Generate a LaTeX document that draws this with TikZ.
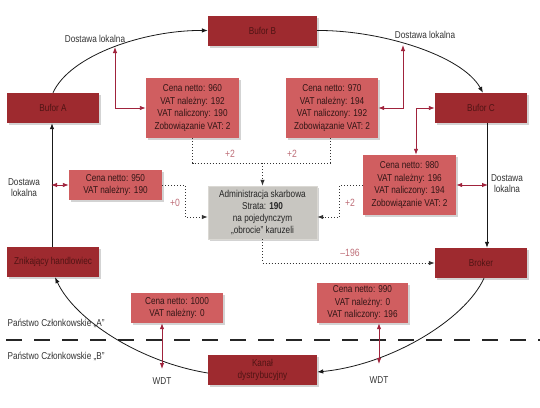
\documentclass[tikz,border=0pt]{standalone}
\usepackage{fontspec}
\setmainfont{Liberation Sans}[FakeStretch=0.82]
\usetikzlibrary{arrows.meta,shadows}
\definecolor{darkbox}{RGB}{158,42,47}
\definecolor{darktext}{RGB}{80,20,20}
\definecolor{infobox}{RGB}{208,94,96}
\definecolor{infotext}{RGB}{50,22,22}
\definecolor{greybox}{RGB}{200,198,193}
\definecolor{greyedge}{RGB}{218,216,211}
\definecolor{redline}{RGB}{160,35,60}
\definecolor{pluscol}{RGB}{190,110,120}
\tikzset{
  shade/.style={drop shadow={opacity=0.35,shadow xshift=2pt,shadow yshift=-2pt}},
  darkstyle/.style={shade,fill=darkbox,text=darktext,minimum height=30pt,inner sep=0pt,align=center,font=\fontsize{10}{11.5}\selectfont},
  infostyle/.style={shade,fill=infobox,text=infotext,inner sep=0pt,align=center,font=\fontsize{10}{12.5}\selectfont},
  admstyle/.style={shade,fill=greybox,draw=greyedge,text=black!85,inner sep=0pt,align=center,font=\fontsize{10}{12}\selectfont},
  lbl/.style={text=black!80,align=center,font=\fontsize{10}{11}\selectfont},
  pluslbl/.style={text=pluscol,font=\fontsize{10.5}{11}\selectfont},
  flow/.style={draw=black!90,line width=0.8pt,-{Latex[length=6pt,width=4.5pt]}},
  redboth/.style={draw=redline,line width=0.9pt,{Latex[length=6pt,width=4.5pt]}-{Latex[length=6pt,width=4.5pt]}},
  dotline/.style={draw=black!80,line width=1pt,dotted},
  dotarrow/.style={dotline,-{Latex[length=6pt,width=4.5pt]}}
}
\begin{document}
\begin{tikzpicture}[x=1pt,y=-1pt]
\useasboundingbox (0,0) rectangle (540,407);
% dark boxes
\node[darkstyle,minimum width=109pt] (bufB) at (262.5,30.5) {Bufor B};
\node[darkstyle,minimum width=92pt] (bufA) at (53,108) {Bufor A};
\node[darkstyle,minimum width=92pt] (bufC) at (481,108) {Bufor C};
\node[darkstyle,minimum width=92pt] (znik) at (53,262) {Znikający handlowiec};
\node[darkstyle,minimum width=92pt] (broker) at (481,263) {Broker};
\node[darkstyle,minimum width=109pt] (kanal) at (262.5,370) {Kanał\\dystrybucyjny};
% info boxes
\node[infostyle,minimum width=93pt,minimum height=60pt] (box1) at (192.5,108) {Cena netto: 960\\VAT należny: 192\\VAT naliczony: 190\\Zobowiązanie VAT: 2};
\node[infostyle,minimum width=92pt,minimum height=60pt] (box2) at (332,108) {Cena netto: 970\\VAT należny: 194\\VAT naliczony: 192\\Zobowiązanie VAT: 2};
\node[infostyle,minimum width=93pt,minimum height=60pt] (box3) at (409.5,185) {Cena netto: 980\\VAT należny: 196\\VAT naliczony: 194\\Zobowiązanie VAT: 2};
\node[infostyle,minimum width=93pt,minimum height=30pt] (box4) at (115.5,185) {Cena netto: 950\\VAT należny: 190};
\node[infostyle,minimum width=92pt,minimum height=30pt] (box5) at (177,308) {Cena netto: 1000\\VAT należny: 0};
\node[infostyle,minimum width=91pt,minimum height=40pt] (box6) at (362.5,303) {Cena netto: 990\\VAT należny: 0\\VAT naliczony: 196};
% administration
\node[admstyle,minimum width=109pt,minimum height=53pt] (adm) at (262.5,212.5) {Administracja skarbowa\\Strata: \textbf{190}\\na pojedynczym\\„obrocie” karuzeli};
% labels
\node[lbl] (dl1) at (95,39) {Dostawa lokalna};
\node[lbl] (dl2) at (425,35) {Dostawa lokalna};
\node[lbl,font=\fontsize{10}{11}\selectfont] (dl3) at (507,184) {Dostawa\\lokalna};
\node[lbl,font=\fontsize{10}{11}\selectfont] (dl4) at (24,188) {Dostawa\\lokalna};
\node[lbl] (wdt1) at (162,381) {WDT};
\node[lbl] (wdt2) at (379,380) {WDT};
\node[lbl,anchor=west] (pa) at (4,323) {Państwo Członkowskie „A”};
\node[lbl,anchor=west] (pb) at (4,356) {Państwo Członkowskie „B”};
\node[pluslbl] (p1) at (230,154) {+2};
\node[pluslbl] (p2) at (292,154) {+2};
\node[pluslbl] (p3) at (175,203) {+0};
\node[pluslbl] (p4) at (350,203) {+2};
\node[pluslbl] (p5) at (350,253) {–196};
% border line
\coordinate (dashL) at (6,340);
\coordinate (dashR) at (540,340);
\draw[line width=2.6pt,black!85,dash pattern=on 16pt off 12pt] (dashL) -- (dashR);
% main cycle
\draw[flow] (bufA.north) .. controls (70,55) and (145,30) .. (bufB.west);
\draw[flow] (bufB.east) .. controls (380,30) and (462,55) .. ([xshift=2pt]bufC.north);
\draw[flow] ([xshift=6pt]bufC.south) -- ([xshift=6pt]broker.north);
\draw[flow] ([xshift=3pt]broker.south) .. controls (465,320) and (390,365) .. ([yshift=-2pt]kanal.east);
\draw[flow] ([yshift=-3pt]kanal.west) .. controls (140,362) and (75,320) .. ([xshift=2pt]znik.south);
\draw[flow] ([xshift=-1pt]znik.north) -- ([xshift=-1pt]bufA.south);
% red connectors
\coordinate (arc1) at (115,47);
\coordinate (arc2) at (403,45);
\coordinate (vC) at (488,185);
\coordinate (vA) at (51,185);
\coordinate (w1) at (162,369);
\coordinate (w2) at (379,364);
\draw[redboth] (box1.west) -| (arc1);
\draw[redboth] (box2.east) -| (arc2);
\draw[redboth] ([xshift=6.5pt]box3.north) |- (bufC.west);
\draw[redboth] (box3.east) -- (vC);
\draw[redboth] (box4.west) -- (vA);
\draw[redboth] ([xshift=-15pt]box5.south) -- (w1);
\draw[redboth] ([xshift=16.5pt]box6.south) -- (w2);
% dotted connectors
\coordinate (join) at (262.5,163);
\draw[dotline] (box1.south) |- (join);
\draw[dotline] ([xshift=-2pt]box2.south) |- (join);
\draw[dotarrow] (join) -- (adm.north);
\draw[dotarrow] (box4.east) -- ++(23,0) |- ([yshift=-4.5pt]adm.west);
\draw[dotarrow] (box3.west) -- ++(-23,0) |- ([yshift=-4.5pt]adm.east);
\draw[dotarrow] (adm.south) |- (broker.west);
\end{tikzpicture}
\end{document}
